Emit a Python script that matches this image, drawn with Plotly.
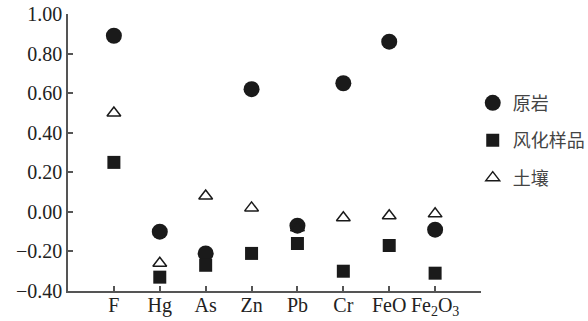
import plotly.graph_objects as go

categories = ["F", "Hg", "As", "Zn", "Pb", "Cr", "FeO", "Fe<sub>2</sub>O<sub>3</sub>"]
rock = [0.89, -0.10, -0.21, 0.62, -0.07, 0.65, 0.86, -0.09]
weathered = [0.25, -0.33, -0.27, -0.21, -0.16, -0.30, -0.17, -0.31]
soil = [0.50, -0.26, 0.08, 0.02, -0.08, -0.03, -0.02, -0.01]
names = ["原岩", "风化样品", "土壤"]
y_ticks = [1.0, 0.8, 0.6, 0.4, 0.2, 0.0, -0.2, -0.4]

xpos = list(range(len(categories)))
fig = go.Figure()
fig.add_trace(go.Scatter(x=xpos, y=rock, mode="markers", name=names[0], legendgroup="a",
                         marker=dict(symbol="circle", size=16, color="#1a1a1a")))
fig.add_trace(go.Scatter(x=xpos, y=weathered, mode="markers", name=names[1], legendgroup="b",
                         marker=dict(symbol="square", size=13, color="#1a1a1a")))
fig.add_trace(go.Scatter(x=xpos, y=soil, mode="markers", name=names[2], legendgroup="c",
                         marker=dict(symbol="triangle-up-open", size=12, color="#1a1a1a",
                                     line=dict(width=1.5, color="#1a1a1a"))))

fig.update_layout(
    template="none",
    width=588, height=321,
    margin=dict(l=68, r=107, t=14, b=30, autoexpand=False),
    plot_bgcolor="white", paper_bgcolor="white",
    font=dict(family="Liberation Serif", size=20, color="#222"),
    showlegend=True,
    legend=dict(x=0.98, y=0.745, xanchor="left", yanchor="top",
                font=dict(family="Noto Sans CJK SC", size=18, color="#444"),
                tracegroupgap=11, itemwidth=30, bgcolor="rgba(0,0,0,0)"),
    xaxis=dict(range=[-1, 8], tickvals=[-1] + xpos + [8], ticktext=[""] + categories + [""],
               showline=True, linecolor="#555", linewidth=1.5, ticks="inside", ticklen=5,
               tickcolor="#555", tickwidth=1.5, showgrid=False, zeroline=False, automargin=False,
               ticklabelstandoff=-5, ticklabeloverflow="allow"),
    yaxis=dict(range=[-0.4, 1.0], tickvals=y_ticks, ticktext=["%.2f" % v if v >= 0 else "\u2212%.2f" % -v for v in y_ticks],
               showline=True, linecolor="#555", linewidth=1.5, ticks="inside", ticklen=5,
               tickcolor="#555", tickwidth=1.5, showgrid=False, zeroline=False, automargin=False,
               ticklabeloverflow="allow"),
)

fig.write_html("out.html", config={"displayModeBar": False},
               post_script="document.body.style.margin='0';")
